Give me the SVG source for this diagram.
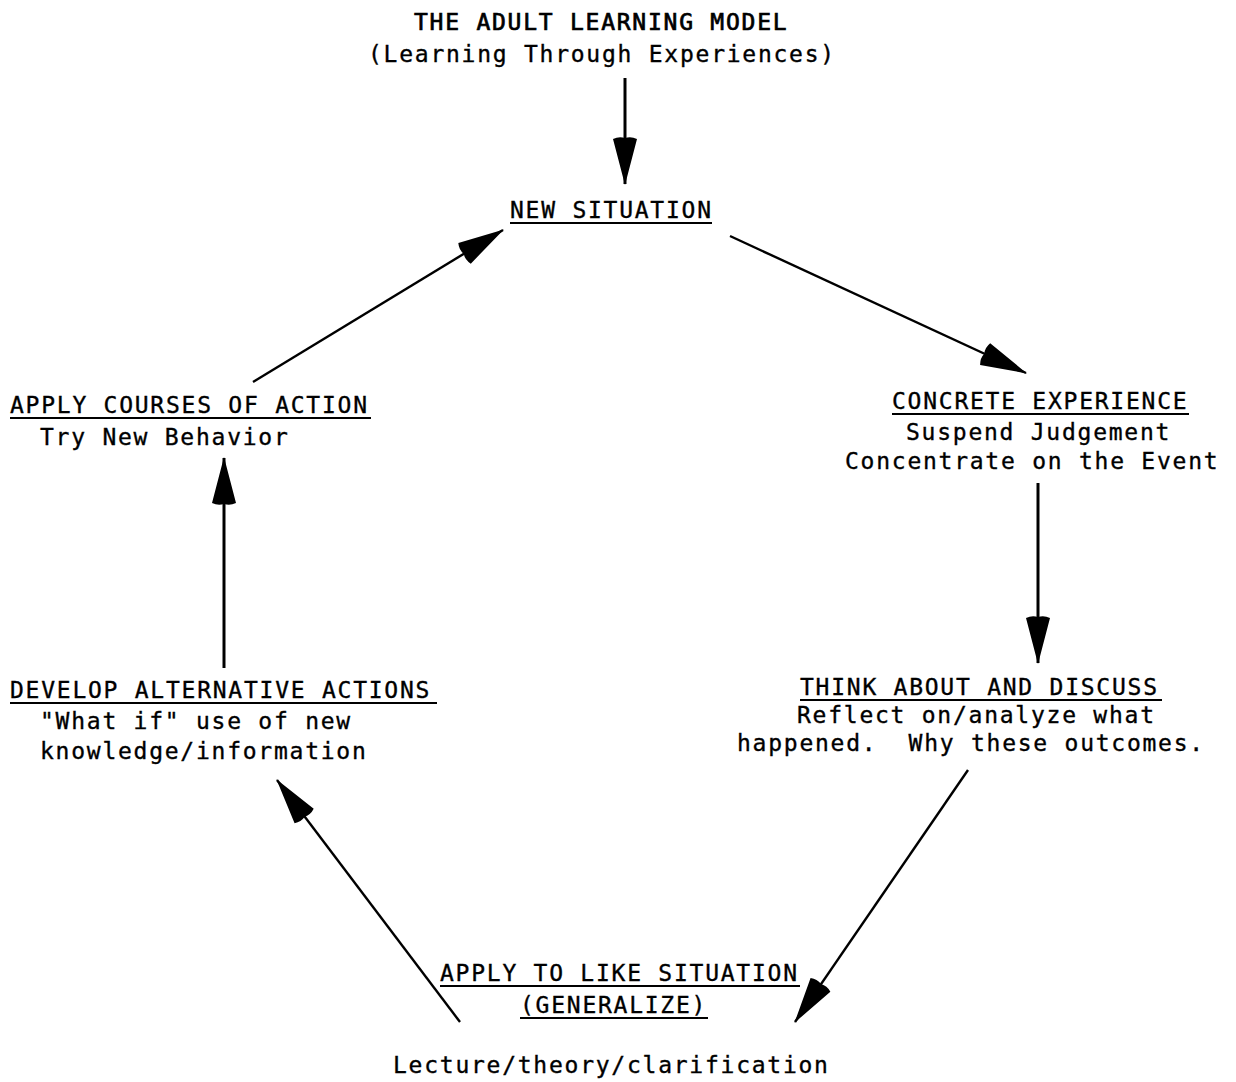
<svg xmlns="http://www.w3.org/2000/svg" width="1236" height="1082" viewBox="0 0 1236 1082">
  <defs>
    <style>
      text { font-family: "DejaVu Sans Mono", "Liberation Mono", monospace; font-size: 23px; letter-spacing: 1.75px; fill: #000; stroke: #000; stroke-width: 0.35; white-space: pre; }
      .title { stroke-width: 0.7; }
      .ul { stroke: #000; stroke-width: 2.2; }
      .conn { stroke: #000; stroke-width: 3; fill: none; marker-end: url(#dart); }
      .thin { stroke-width: 2.4; }
    </style>
    <marker id="dart" viewBox="-50 -15 52 30" refX="0" refY="0" markerWidth="52" markerHeight="30" markerUnits="userSpaceOnUse" orient="auto">
      <path d="M1,0 L-45,-12 Q-48,-6 -46,0 Q-48,6 -45,12 Z" fill="#000"/>
    </marker>
  </defs>
  <rect width="1236" height="1082" fill="#fff"/>

  <g id="title">
    <text class="title" x="414" y="30">THE ADULT LEARNING MODEL</text>
    <text x="368" y="62">(Learning Through Experiences)</text>
  </g>

  <g id="new-situation">
    <text x="510" y="218">NEW SITUATION</text>
    <line class="ul" x1="510" y1="223" x2="712" y2="223"/>
  </g>

  <g id="concrete-experience">
    <text x="892" y="409">CONCRETE EXPERIENCE</text>
    <line class="ul" x1="892" y1="414" x2="1189" y2="414"/>
    <text x="906" y="440">Suspend Judgement</text>
    <text x="845" y="469">Concentrate on the Event</text>
  </g>

  <g id="think-about">
    <text x="800" y="695">THINK ABOUT AND DISCUSS</text>
    <line class="ul" x1="800" y1="700" x2="1162" y2="700"/>
    <text x="797" y="723">Reflect on/analyze what</text>
    <text x="737" y="751">happened.  Why these outcomes.</text>
  </g>

  <g id="apply-like">
    <text x="440" y="981">APPLY TO LIKE SITUATION</text>
    <line class="ul" x1="440" y1="986" x2="800" y2="986"/>
    <text x="520" y="1013">(GENERALIZE)</text>
    <line class="ul" x1="520" y1="1018" x2="708" y2="1018"/>
    <text x="393" y="1073">Lecture/theory/clarification</text>
  </g>

  <g id="develop-alternatives">
    <text x="10" y="698">DEVELOP ALTERNATIVE ACTIONS</text>
    <line class="ul" x1="10" y1="703" x2="437" y2="703"/>
    <text x="40" y="729">"What if" use of new</text>
    <text x="40" y="759">knowledge/information</text>
  </g>

  <g id="apply-courses">
    <text x="10" y="413">APPLY COURSES OF ACTION</text>
    <line class="ul" x1="10" y1="418" x2="371" y2="418"/>
    <text x="40" y="445">Try New Behavior</text>
  </g>

  <g id="connectors">
    <line class="conn" x1="625" y1="78" x2="625" y2="184"/>
    <line class="conn thin" x1="730" y1="236" x2="1026" y2="373"/>
    <line class="conn" x1="1038" y1="483" x2="1038" y2="663"/>
    <line class="conn thin" x1="968" y1="770" x2="795" y2="1022"/>
    <line class="conn thin" x1="460" y1="1022" x2="277" y2="780"/>
    <line class="conn" x1="224" y1="668" x2="224" y2="458"/>
    <line class="conn thin" x1="253" y1="382" x2="503" y2="230"/>
  </g>
</svg>
